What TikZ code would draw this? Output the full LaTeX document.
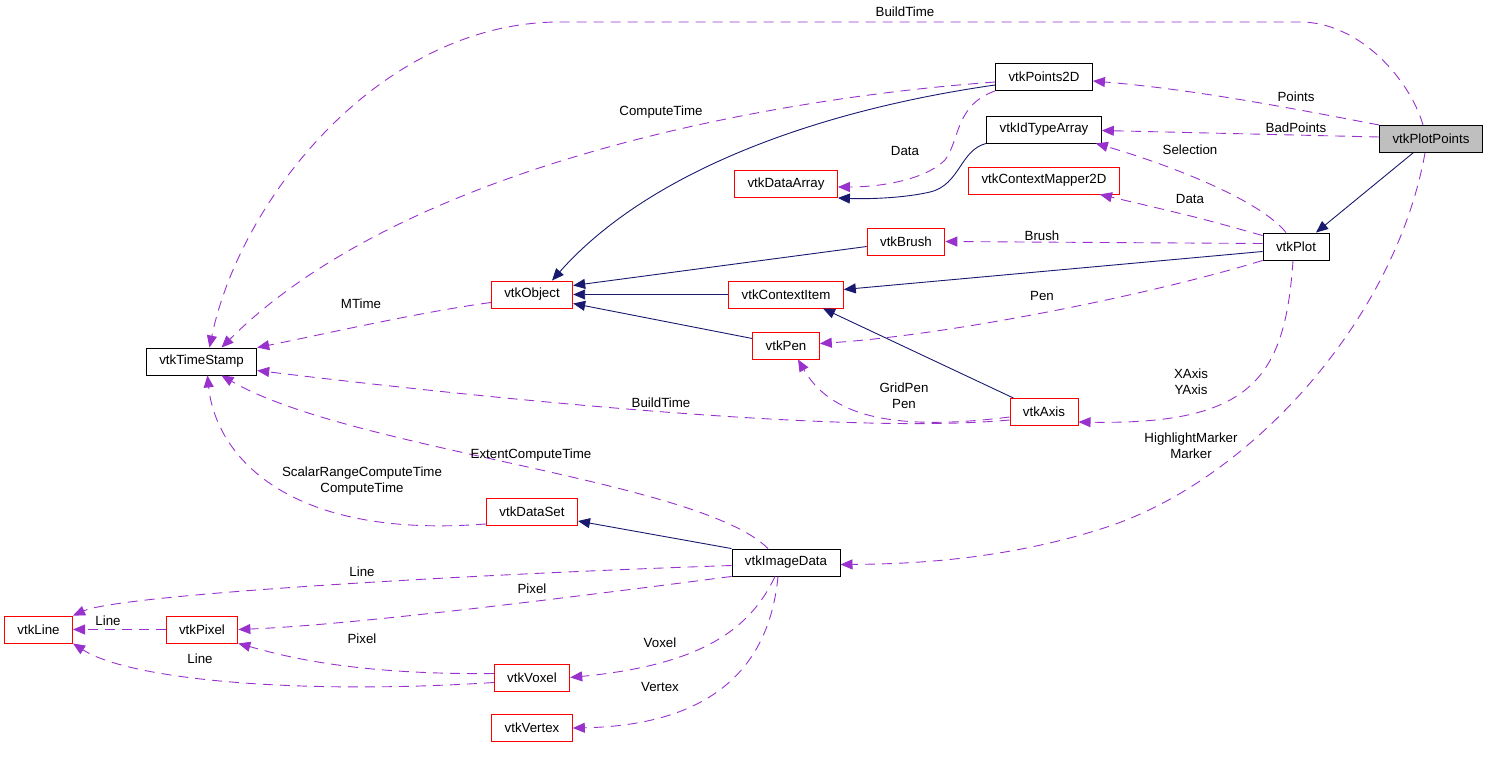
\documentclass[tikz,border=0pt]{standalone}
\usepackage{fontspec}
\setmainfont{Liberation Sans}
\usetikzlibrary{calc}
\usetikzlibrary{arrows.meta}
\definecolor{inhcol}{RGB}{25,25,112}
\definecolor{usecol}{RGB}{153,50,204}
\definecolor{grayfill}{RGB}{191,191,191}

\begin{document}
\begin{tikzpicture}[x=1pt, y=-1pt,
  cls/.style={draw=black, fill=white, line width=0.9pt, font=\fontsize{13.3}{16}\selectfont, inner xsep=13pt, inner ysep=0pt, minimum height=27pt},
  redcls/.style={cls, draw=red},
  lbl/.style={font=\fontsize{13.3}{16}\selectfont, align=center, inner sep=0pt},
  inherit/.style={draw=inhcol, line width=0.9pt, -{Triangle[length=12pt,width=10pt]}},
  usedge/.style={draw=usecol, line width=0.9pt, dash pattern=on 10pt off 7pt, -{Triangle[length=12pt,width=10pt]}}]
\useasboundingbox (0,0) rectangle (1488,757);

\node[cls, fill=grayfill, name=plotpts] at (1431,139) {vtkPlotPoints};
\node[cls, name=points] at (1044,77) {vtkPoints2D};
\node[cls, name=idarr] at (1044,129.5) {vtkIdTypeArray};
\node[redcls, name=mapper] at (1044,180.5) {vtkContextMapper2D};
\node[redcls, name=darr] at (786,184) {vtkDataArray};
\node[redcls, name=brush] at (906,241.5) {vtkBrush};
\node[cls, name=plot] at (1296,246.5) {vtkPlot};
\node[redcls, name=object] at (532,294.5) {vtkObject};
\node[redcls, name=citem] at (786,294.5) {vtkContextItem};
\node[cls, name=stamp] at (201.5,361.5) {vtkTimeStamp};
\node[redcls, name=pen] at (786,345.5) {vtkPen};
\node[redcls, name=axis] at (1044,412) {vtkAxis};
\node[redcls, name=dataset] at (532,512) {vtkDataSet};
\node[cls, name=image] at (786,562.5) {vtkImageData};
\node[redcls, name=vline] at (38.5,629.5) {vtkLine};
\node[redcls, name=pixel] at (202,629.5) {vtkPixel};
\node[redcls, name=voxel] at (532,677.5) {vtkVoxel};
\node[redcls, name=vertex] at (532,728) {vtkVertex};

% inheritance
\draw[inherit] ($(plotpts.south)+(-18,0)$) -- ($(plot.north)+(20,0)$);
\draw[inherit] ($(points.west)+(0,8)$) .. controls (820,110) and (650,170) .. ($(object.north)+(20,0)$);
\draw[inherit] (idarr.south west) .. controls (960,150) and (960,185) .. (930,192) .. controls (900,199) and (860,199) .. (darr.south east);
\draw[inherit] ($(brush.west)+(0,5)$) -- ($(object.east)+(0,-9)$);
\draw[inherit] (citem.west) -- (object.east);
\draw[inherit] ($(pen.west)+(0,-7)$) -- ($(object.east)+(0,9)$);
\draw[inherit] ($(plot.west)+(0,5)$) -- ($(citem.east)+(0,-5)$);
\draw[inherit] ($(axis.north west)+(4,0)$) -- ($(citem.south)+(37,0)$);
\draw[inherit] (image.north west) -- ($(dataset.east)+(0,9)$);

% usage
\draw[usedge] ($(plotpts.north)+(-8,0)$) .. controls (1410,80) and (1360,22) .. (1300,22) -- (560,22) .. controls (380,22) and (240,200) .. ($(stamp.north)+(8,0)$);
\node[lbl, name=lbuildtop] at (905,12) {BuildTime};
\draw[usedge] ($(plotpts.west)+(0,-14)$) .. controls (1300,110) and (1200,90) .. ($(points.east)+(0,4)$);
\node[lbl, name=lpoints] at (1296,97) {Points};
\draw[usedge] ($(plotpts.west)+(0,-2)$) -- ($(idarr.east)+(0,1)$);
\node[lbl, name=lbad] at (1296,128) {BadPoints};
\draw[usedge] ($(plotpts.south)+(-6,0)$) .. controls (1395,320) and (1250,480) .. (1107,527) .. controls (1000,562) and (900,564) .. ($(image.east)+(0,2)$);
\node[lbl, name=lmarker] at (1191,446) {HighlightMarker\\Marker};
\draw[usedge] ($(points.west)+(0,5)$) .. controls (750,100) and (400,170) .. ($(stamp.north)+(20,0)$);
\node[lbl, name=lcompute] at (661,112) {ComputeTime};
\draw[usedge] (points.south west) .. controls (955,105) and (960,140) .. (945,160) .. controls (925,180) and (880,187) .. ($(darr.east)+(0,3)$);
\node[lbl, name=ldata] at (905,151) {Data};
\draw[usedge] ($(plot.north)+(-10,0)$) .. controls (1260,200) and (1170,165) .. ($(idarr.south east)+(-6,0)$);
\node[lbl, name=lsel] at (1190,150) {Selection};
\draw[usedge] ($(plot.north west)+(0,3)$) .. controls (1200,218) .. ($(mapper.south east)+(-20,0)$);
\node[lbl, name=ldata2] at (1190,199) {Data};
\draw[usedge] ($(plot.west)+(0,-3)$) -- (brush.east);
\node[lbl, name=lbrush] at (1042,236) {Brush};
\draw[usedge] (plot.south west) .. controls (1150,295) and (950,335) .. ($(pen.east)+(0,-2)$);
\node[lbl, name=lpen] at (1042,296) {Pen};
\draw[usedge] ($(plot.south)+(-3,0)$) .. controls (1285,380) and (1250,425) .. ($(axis.east)+(0,10)$);
\node[lbl, name=laxis] at (1191,382) {XAxis\\YAxis};
\draw[usedge] ($(object.west)+(0,8)$) .. controls (420,312) and (320,335) .. (stamp.north east);
\node[lbl, name=lmtime] at (361,304) {MTime};
\draw[usedge] ($(axis.west)+(0,8)$) .. controls (850,435) and (500,400) .. ($(stamp.east)+(0,9)$);
\node[lbl, name=lbuildaxis] at (661,403) {BuildTime};
\draw[usedge] ($(axis.west)+(0,5)$) .. controls (890,432) and (830,415) .. ($(pen.south)+(12,0)$);
\node[lbl, name=lgrid] at (904,396) {GridPen\\Pen};
\draw[usedge] ($(image.north)+(-18,0)$) .. controls (700,480) and (350,450) .. ($(stamp.south)+(20,0)$);
\node[lbl, name=lextent] at (531,455) {ExtentComputeTime};
\draw[usedge] ($(dataset.south west)+(0,-2)$) .. controls (280,540) and (215,450) .. ($(stamp.south)+(6,0)$);
\node[lbl, name=lscalar] at (362,481) {ScalarRangeComputeTime\\ComputeTime};
\draw[usedge] ($(image.west)+(0,3)$) .. controls (450,575) and (120,595) .. (vline.north east);
\node[lbl, name=lline1] at (362,572) {Line};
\draw[usedge] (image.south west) .. controls (550,600) and (350,625) .. (pixel.east);
\node[lbl, name=lpixel1] at (532,589) {Pixel};
\draw[usedge] ($(image.south)+(-11,0)$) .. controls (750,630) and (700,665) .. (voxel.east);
\node[lbl, name=lvoxel] at (660,643) {Voxel};
\draw[usedge] ($(image.south)+(-8,0)$) .. controls (770,660) and (720,725) .. (vertex.east);
\node[lbl, name=lvertex] at (660,687) {Vertex};
\draw[usedge] (pixel.west) -- (vline.east);
\node[lbl, name=lline2] at (108,621) {Line};
\draw[usedge] ($(voxel.west)+(0,-4)$) .. controls (350,675) and (280,655) .. (pixel.south east);
\node[lbl, name=lpixel2] at (362,639) {Pixel};
\draw[usedge] ($(voxel.west)+(0,5)$) .. controls (300,695) and (130,680) .. (vline.south east);
\node[lbl, name=lline3] at (200,659) {Line};
\end{tikzpicture}
\end{document}
